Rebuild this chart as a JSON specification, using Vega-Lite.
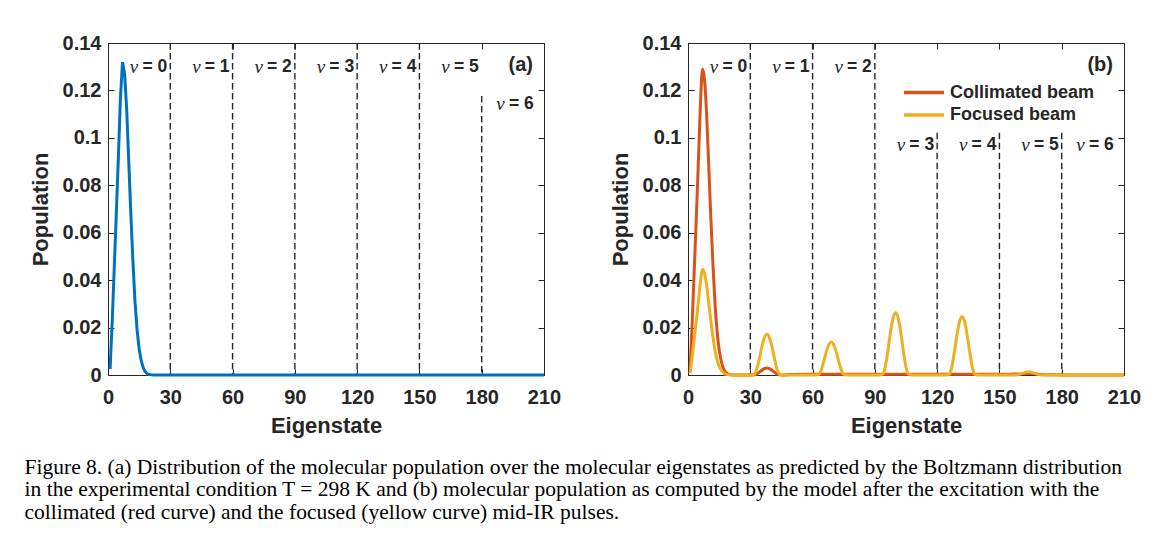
{
  "$schema": "https://vega.github.io/schema/vega-lite/v6.json",
  "background": "white",
  "padding": {"left": 24, "top": 32, "right": 5, "bottom": 5},
  "datasets": {
    "curveA": [
      {"n": 1, "p": 0.0025}, {"n": 2, "p": 0.022}, {"n": 3, "p": 0.045}, {"n": 4, "p": 0.068},
      {"n": 5, "p": 0.092}, {"n": 6, "p": 0.117}, {"n": 7, "p": 0.132}, {"n": 8, "p": 0.127},
      {"n": 9, "p": 0.112}, {"n": 10, "p": 0.09}, {"n": 11, "p": 0.068}, {"n": 12, "p": 0.048},
      {"n": 13, "p": 0.031}, {"n": 14, "p": 0.019}, {"n": 15, "p": 0.011}, {"n": 16, "p": 0.006},
      {"n": 17, "p": 0.003}, {"n": 18, "p": 0.0013}, {"n": 19, "p": 0.0005}, {"n": 20, "p": 0.0002},
      {"n": 21, "p": 0.00005}, {"n": 22, "p": 0}, {"n": 60, "p": 0}, {"n": 120, "p": 0},
      {"n": 180, "p": 0}, {"n": 210, "p": 0}
    ],
    "curveB": [
      {"beam": "Collimated beam", "n": 1, "p": 0.0024}, {"beam": "Collimated beam", "n": 2, "p": 0.0215},
      {"beam": "Collimated beam", "n": 3, "p": 0.044}, {"beam": "Collimated beam", "n": 4, "p": 0.0664},
      {"beam": "Collimated beam", "n": 5, "p": 0.0899}, {"beam": "Collimated beam", "n": 6, "p": 0.1143},
      {"beam": "Collimated beam", "n": 7, "p": 0.129}, {"beam": "Collimated beam", "n": 8, "p": 0.1241},
      {"beam": "Collimated beam", "n": 9, "p": 0.1094}, {"beam": "Collimated beam", "n": 10, "p": 0.0879},
      {"beam": "Collimated beam", "n": 11, "p": 0.0664}, {"beam": "Collimated beam", "n": 12, "p": 0.0469},
      {"beam": "Collimated beam", "n": 13, "p": 0.0303}, {"beam": "Collimated beam", "n": 14, "p": 0.0186},
      {"beam": "Collimated beam", "n": 15, "p": 0.0107}, {"beam": "Collimated beam", "n": 16, "p": 0.0059},
      {"beam": "Collimated beam", "n": 17, "p": 0.0029}, {"beam": "Collimated beam", "n": 18, "p": 0.0013},
      {"beam": "Collimated beam", "n": 19, "p": 0.0005}, {"beam": "Collimated beam", "n": 20, "p": 0.0002},
      {"beam": "Collimated beam", "n": 21, "p": 0.0001}, {"beam": "Collimated beam", "n": 22, "p": 0},
      {"beam": "Collimated beam", "n": 30, "p": 0}, {"beam": "Collimated beam", "n": 31, "p": 0.00001},
      {"beam": "Collimated beam", "n": 32, "p": 0.00006}, {"beam": "Collimated beam", "n": 33, "p": 0.00037},
      {"beam": "Collimated beam", "n": 34, "p": 0.00094}, {"beam": "Collimated beam", "n": 35, "p": 0.00162},
      {"beam": "Collimated beam", "n": 36, "p": 0.00227}, {"beam": "Collimated beam", "n": 37, "p": 0.00273},
      {"beam": "Collimated beam", "n": 38, "p": 0.0029}, {"beam": "Collimated beam", "n": 39, "p": 0.00273},
      {"beam": "Collimated beam", "n": 40, "p": 0.00227}, {"beam": "Collimated beam", "n": 41, "p": 0.00162},
      {"beam": "Collimated beam", "n": 42, "p": 0.00094}, {"beam": "Collimated beam", "n": 43, "p": 0.00037},
      {"beam": "Collimated beam", "n": 44, "p": 0.00008}, {"beam": "Collimated beam", "n": 45, "p": 0.00005},
      {"beam": "Collimated beam", "n": 50, "p": 0.0002}, {"beam": "Collimated beam", "n": 60, "p": 0.0003},
      {"beam": "Collimated beam", "n": 90, "p": 0.0003}, {"beam": "Collimated beam", "n": 120, "p": 0.0003},
      {"beam": "Collimated beam", "n": 150, "p": 0.0003}, {"beam": "Collimated beam", "n": 158, "p": 0.0004},
      {"beam": "Collimated beam", "n": 161, "p": 0.0005}, {"beam": "Collimated beam", "n": 164, "p": 0.0006},
      {"beam": "Collimated beam", "n": 167, "p": 0.0005}, {"beam": "Collimated beam", "n": 170, "p": 0.0002},
      {"beam": "Collimated beam", "n": 175, "p": 0.0001}, {"beam": "Collimated beam", "n": 180, "p": 0},
      {"beam": "Collimated beam", "n": 210, "p": 0},
      {"beam": "Focused beam", "n": 1, "p": 0.0008}, {"beam": "Focused beam", "n": 2, "p": 0.0074},
      {"beam": "Focused beam", "n": 3, "p": 0.0152}, {"beam": "Focused beam", "n": 4, "p": 0.0229},
      {"beam": "Focused beam", "n": 5, "p": 0.031}, {"beam": "Focused beam", "n": 6, "p": 0.0394},
      {"beam": "Focused beam", "n": 7, "p": 0.0445}, {"beam": "Focused beam", "n": 8, "p": 0.0428},
      {"beam": "Focused beam", "n": 9, "p": 0.0377}, {"beam": "Focused beam", "n": 10, "p": 0.0303},
      {"beam": "Focused beam", "n": 11, "p": 0.0229}, {"beam": "Focused beam", "n": 12, "p": 0.0162},
      {"beam": "Focused beam", "n": 13, "p": 0.0104}, {"beam": "Focused beam", "n": 14, "p": 0.0064},
      {"beam": "Focused beam", "n": 15, "p": 0.0037}, {"beam": "Focused beam", "n": 16, "p": 0.002},
      {"beam": "Focused beam", "n": 17, "p": 0.001}, {"beam": "Focused beam", "n": 18, "p": 0.0004},
      {"beam": "Focused beam", "n": 19, "p": 0.0002}, {"beam": "Focused beam", "n": 20, "p": 0.0001},
      {"beam": "Focused beam", "n": 21, "p": 0}, {"beam": "Focused beam", "n": 30, "p": 0},
      {"beam": "Focused beam", "n": 31, "p": 0.00007}, {"beam": "Focused beam", "n": 32, "p": 0.00034},
      {"beam": "Focused beam", "n": 33, "p": 0.00217}, {"beam": "Focused beam", "n": 34, "p": 0.00556},
      {"beam": "Focused beam", "n": 35, "p": 0.00963}, {"beam": "Focused beam", "n": 36, "p": 0.01348},
      {"beam": "Focused beam", "n": 37, "p": 0.01622}, {"beam": "Focused beam", "n": 38, "p": 0.0172},
      {"beam": "Focused beam", "n": 39, "p": 0.01622}, {"beam": "Focused beam", "n": 40, "p": 0.01348},
      {"beam": "Focused beam", "n": 41, "p": 0.00963}, {"beam": "Focused beam", "n": 42, "p": 0.00556},
      {"beam": "Focused beam", "n": 43, "p": 0.00217}, {"beam": "Focused beam", "n": 44, "p": 0.00034},
      {"beam": "Focused beam", "n": 45, "p": 0.00007}, {"beam": "Focused beam", "n": 46, "p": 0},
      {"beam": "Focused beam", "n": 61, "p": 0}, {"beam": "Focused beam", "n": 62, "p": 0.00006},
      {"beam": "Focused beam", "n": 63, "p": 0.00028}, {"beam": "Focused beam", "n": 64, "p": 0.00175},
      {"beam": "Focused beam", "n": 65, "p": 0.00449}, {"beam": "Focused beam", "n": 66, "p": 0.00778},
      {"beam": "Focused beam", "n": 67, "p": 0.0109}, {"beam": "Focused beam", "n": 68, "p": 0.01311},
      {"beam": "Focused beam", "n": 69, "p": 0.0139}, {"beam": "Focused beam", "n": 70, "p": 0.01311},
      {"beam": "Focused beam", "n": 71, "p": 0.0109}, {"beam": "Focused beam", "n": 72, "p": 0.00778},
      {"beam": "Focused beam", "n": 73, "p": 0.00449}, {"beam": "Focused beam", "n": 74, "p": 0.00175},
      {"beam": "Focused beam", "n": 75, "p": 0.00028}, {"beam": "Focused beam", "n": 76, "p": 0.00006},
      {"beam": "Focused beam", "n": 77, "p": 0}, {"beam": "Focused beam", "n": 92, "p": 0},
      {"beam": "Focused beam", "n": 93, "p": 0.00011}, {"beam": "Focused beam", "n": 94, "p": 0.00053},
      {"beam": "Focused beam", "n": 95, "p": 0.00331}, {"beam": "Focused beam", "n": 96, "p": 0.0085},
      {"beam": "Focused beam", "n": 97, "p": 0.01473}, {"beam": "Focused beam", "n": 98, "p": 0.02062},
      {"beam": "Focused beam", "n": 99, "p": 0.0248}, {"beam": "Focused beam", "n": 100, "p": 0.0263},
      {"beam": "Focused beam", "n": 101, "p": 0.0248}, {"beam": "Focused beam", "n": 102, "p": 0.02062},
      {"beam": "Focused beam", "n": 103, "p": 0.01473}, {"beam": "Focused beam", "n": 104, "p": 0.0085},
      {"beam": "Focused beam", "n": 105, "p": 0.00331}, {"beam": "Focused beam", "n": 106, "p": 0.00053},
      {"beam": "Focused beam", "n": 107, "p": 0.00011}, {"beam": "Focused beam", "n": 108, "p": 0},
      {"beam": "Focused beam", "n": 124, "p": 0}, {"beam": "Focused beam", "n": 125, "p": 0.0001},
      {"beam": "Focused beam", "n": 126, "p": 0.00049}, {"beam": "Focused beam", "n": 127, "p": 0.0031},
      {"beam": "Focused beam", "n": 128, "p": 0.00795}, {"beam": "Focused beam", "n": 129, "p": 0.01378},
      {"beam": "Focused beam", "n": 130, "p": 0.01929}, {"beam": "Focused beam", "n": 131, "p": 0.0232},
      {"beam": "Focused beam", "n": 132, "p": 0.0246}, {"beam": "Focused beam", "n": 133, "p": 0.0232},
      {"beam": "Focused beam", "n": 134, "p": 0.01929}, {"beam": "Focused beam", "n": 135, "p": 0.01378},
      {"beam": "Focused beam", "n": 136, "p": 0.00795}, {"beam": "Focused beam", "n": 137, "p": 0.0031},
      {"beam": "Focused beam", "n": 138, "p": 0.00049}, {"beam": "Focused beam", "n": 139, "p": 0.0001},
      {"beam": "Focused beam", "n": 140, "p": 0}, {"beam": "Focused beam", "n": 157, "p": 0},
      {"beam": "Focused beam", "n": 158, "p": 0.00003}, {"beam": "Focused beam", "n": 159, "p": 0.00016},
      {"beam": "Focused beam", "n": 160, "p": 0.00042}, {"beam": "Focused beam", "n": 161, "p": 0.00073},
      {"beam": "Focused beam", "n": 162, "p": 0.00102}, {"beam": "Focused beam", "n": 163, "p": 0.00123},
      {"beam": "Focused beam", "n": 164, "p": 0.0013}, {"beam": "Focused beam", "n": 165, "p": 0.00123},
      {"beam": "Focused beam", "n": 166, "p": 0.00102}, {"beam": "Focused beam", "n": 167, "p": 0.00073},
      {"beam": "Focused beam", "n": 168, "p": 0.00042}, {"beam": "Focused beam", "n": 169, "p": 0.00016},
      {"beam": "Focused beam", "n": 170, "p": 0.00003}, {"beam": "Focused beam", "n": 171, "p": 0},
      {"beam": "Focused beam", "n": 210, "p": 0}
    ],
    "linesA": [
      {"x": 30, "top": 0.14}, {"x": 60, "top": 0.14}, {"x": 90, "top": 0.14},
      {"x": 120, "top": 0.14}, {"x": 150, "top": 0.14}, {"x": 180, "top": 0.1176}
    ],
    "linesB": [
      {"x": 30, "top": 0.14}, {"x": 60, "top": 0.14}, {"x": 90, "top": 0.14},
      {"x": 120, "top": 0.1022}, {"x": 150, "top": 0.1022}, {"x": 180, "top": 0.1022}
    ],
    "nuA": [
      {"x": 30, "y": 0.130, "t": "= 0"}, {"x": 60, "y": 0.130, "t": "= 1"},
      {"x": 90, "y": 0.130, "t": "= 2"}, {"x": 120, "y": 0.130, "t": "= 3"},
      {"x": 150, "y": 0.130, "t": "= 4"}, {"x": 180, "y": 0.130, "t": "= 5"},
      {"x": 206.5, "y": 0.1144, "t": "= 6"}
    ],
    "nuB": [
      {"x": 30, "y": 0.1298, "t": "= 0"}, {"x": 60, "y": 0.1298, "t": "= 1"},
      {"x": 90, "y": 0.1298, "t": "= 2"}, {"x": 120, "y": 0.0968, "t": "= 3"},
      {"x": 150, "y": 0.0968, "t": "= 4"}, {"x": 180, "y": 0.0968, "t": "= 5"},
      {"x": 206.5, "y": 0.0968, "t": "= 6"}
    ],
    "tagA": [{"x": 210, "y": 0.1306, "t": "(a)"}],
    "tagB": [{"x": 210, "y": 0.1306, "t": "(b)"}]
  },
  "spacing": 46,
  "resolve": {"legend": {"color": "independent"}},
  "hconcat": [
    {
      "width": 436,
      "height": 332,
      "layer": [
        {
          "data": {"name": "linesA"},
          "mark": {"type": "rule", "strokeDash": [6.5, 3.5], "strokeWidth": 1.4, "color": "#262626"},
          "encoding": {
            "x": {"field": "x", "type": "quantitative", "scale": {"domain": [0, 210], "nice": false},
              "axis": {"orient": "bottom", "values": [0, 30, 60, 90, 120, 150, 180, 210], "title": "Eigenstate", "labelPadding": 18, "titlePadding": 8}},
            "y": {"field": "top", "type": "quantitative", "scale": {"domain": [0, 0.14], "nice": false},
              "axis": {"orient": "left", "values": [0, 0.02, 0.04, 0.06, 0.08, 0.1, 0.12, 0.14], "format": "~g", "title": "Population", "labelPadding": 13, "titlePadding": 10}},
            "y2": {"datum": 0}
          }
        },
        {
          "data": {"name": "curveA"},
          "mark": {"type": "line", "color": "#0072BD", "strokeWidth": 3},
          "encoding": {
            "x": {"field": "n", "type": "quantitative",
              "axis": {"orient": "top", "values": [0, 30, 60, 90, 120, 150, 180, 210], "labels": false, "title": null}},
            "y": {"field": "p", "type": "quantitative",
              "axis": {"orient": "right", "values": [0, 0.02, 0.04, 0.06, 0.08, 0.1, 0.12, 0.14], "labels": false, "title": null}}
          }
        },
        {
          "data": {"name": "nuA"},
          "mark": {"type": "text", "align": "right", "baseline": "middle", "dx": -3, "font": "Liberation Sans", "fontWeight": "bold", "fontSize": 17.5, "color": "#262626"},
          "encoding": {
            "x": {"field": "x", "type": "quantitative", "axis": null},
            "y": {"field": "y", "type": "quantitative", "axis": null},
            "text": {"field": "t"}
          }
        },
        {
          "data": {"name": "nuA"},
          "mark": {"type": "text", "align": "right", "baseline": "middle", "dx": -32, "font": "Liberation Serif", "fontStyle": "italic", "fontSize": 19, "color": "#262626"},
          "encoding": {
            "x": {"field": "x", "type": "quantitative", "axis": null},
            "y": {"field": "y", "type": "quantitative", "axis": null},
            "text": {"value": "ν"}
          }
        },
        {
          "data": {"name": "tagA"},
          "mark": {"type": "text", "align": "right", "baseline": "middle", "dx": -11, "font": "Liberation Sans", "fontWeight": "bold", "fontSize": 20, "color": "#262626"},
          "encoding": {
            "x": {"field": "x", "type": "quantitative", "axis": null},
            "y": {"field": "y", "type": "quantitative", "axis": null},
            "text": {"field": "t"}
          }
        }
      ]
    },
    {
      "width": 436,
      "height": 332,
      "layer": [
        {
          "data": {"name": "linesB"},
          "mark": {"type": "rule", "strokeDash": [6.5, 3.5], "strokeWidth": 1.4, "color": "#262626"},
          "encoding": {
            "x": {"field": "x", "type": "quantitative", "scale": {"domain": [0, 210], "nice": false},
              "axis": {"orient": "bottom", "values": [0, 30, 60, 90, 120, 150, 180, 210], "title": "Eigenstate", "labelPadding": 18, "titlePadding": 8}},
            "y": {"field": "top", "type": "quantitative", "scale": {"domain": [0, 0.14], "nice": false},
              "axis": {"orient": "left", "values": [0, 0.02, 0.04, 0.06, 0.08, 0.1, 0.12, 0.14], "format": "~g", "title": "Population", "labelPadding": 13, "titlePadding": 10}},
            "y2": {"datum": 0}
          }
        },
        {
          "data": {"name": "curveB"},
          "mark": {"type": "line", "strokeWidth": 3, "interpolate": "monotone"},
          "encoding": {
            "x": {"field": "n", "type": "quantitative",
              "axis": {"orient": "top", "values": [0, 30, 60, 90, 120, 150, 180, 210], "labels": false, "title": null}},
            "y": {"field": "p", "type": "quantitative",
              "axis": {"orient": "right", "values": [0, 0.02, 0.04, 0.06, 0.08, 0.1, 0.12, 0.14], "labels": false, "title": null}},
            "color": {"field": "beam", "type": "nominal",
              "scale": {"domain": ["Collimated beam", "Focused beam"], "range": ["#D95319", "#EDB120"]},
              "legend": {"orient": "none", "legendX": 227, "legendY": 40.5, "title": null, "symbolType": "M-4,0H4", "symbolSize": 100, "symbolStrokeWidth": 3.5, "labelFontSize": 18, "labelFont": "Liberation Sans", "labelFontWeight": "bold", "labelColor": "#262626", "rowPadding": 4.6, "labelOffset": 17, "padding": 0}}
          }
        },
        {
          "data": {"name": "nuB"},
          "mark": {"type": "text", "align": "right", "baseline": "middle", "dx": -3, "font": "Liberation Sans", "fontWeight": "bold", "fontSize": 17.5, "color": "#262626"},
          "encoding": {
            "x": {"field": "x", "type": "quantitative", "axis": null},
            "y": {"field": "y", "type": "quantitative", "axis": null},
            "text": {"field": "t"}
          }
        },
        {
          "data": {"name": "nuB"},
          "mark": {"type": "text", "align": "right", "baseline": "middle", "dx": -32, "font": "Liberation Serif", "fontStyle": "italic", "fontSize": 19, "color": "#262626"},
          "encoding": {
            "x": {"field": "x", "type": "quantitative", "axis": null},
            "y": {"field": "y", "type": "quantitative", "axis": null},
            "text": {"value": "ν"}
          }
        },
        {
          "data": {"name": "tagB"},
          "mark": {"type": "text", "align": "right", "baseline": "middle", "dx": -11, "font": "Liberation Sans", "fontWeight": "bold", "fontSize": 20, "color": "#262626"},
          "encoding": {
            "x": {"field": "x", "type": "quantitative", "axis": null},
            "y": {"field": "y", "type": "quantitative", "axis": null},
            "text": {"field": "t"}
          }
        }
      ]
    }
  ],
  "title": {
    "text": [
      "Figure 8. (a) Distribution of the molecular population over the molecular eigenstates as predicted by the Boltzmann distribution",
      "in the experimental condition T = 298 K and (b) molecular population as computed by the model after the excitation with the",
      "collimated (red curve) and the focused (yellow curve) mid-IR pulses."
    ],
    "orient": "bottom",
    "anchor": "start",
    "font": "Liberation Serif",
    "fontSize": 21.5,
    "fontWeight": "normal",
    "color": "black",
    "lineHeight": 22.5,
    "offset": 20,
    "dx": -4
  },
  "config": {
    "view": {"stroke": "#262626", "strokeWidth": 1},
    "axis": {
      "grid": false,
      "domainColor": "#262626",
      "tickColor": "#262626",
      "labelColor": "#262626",
      "titleColor": "#262626",
      "labelFont": "Liberation Sans",
      "titleFont": "Liberation Sans",
      "labelFontWeight": "bold",
      "titleFontWeight": "bold",
      "labelFontSize": 20,
      "titleFontSize": 22,
      "tickSize": -6,
      "tickWidth": 1,
      "domainWidth": 1,
      "labelFlush": false,
      "labelOverlap": false
    }
  }
}
